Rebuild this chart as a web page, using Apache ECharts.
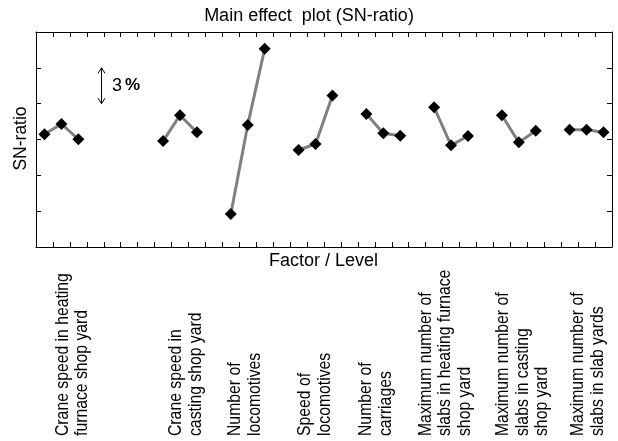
<!DOCTYPE html>
<html><head><meta charset="utf-8">
<script src="https://cdn.jsdelivr.net/npm/echarts@6/dist/echarts.min.js"></script>
<style>html,body{margin:0;padding:0;background:#fff}#c{width:618px;height:441px}</style>
</head><body><div id="c"></div>
<script>
// ---- data ----
const titleText = 'Main effect  plot (SN-ratio)';
const xAxisName = 'Factor / Level';
const yAxisName = 'SN-ratio';
const levelCategories = ['A1','A2','A3','s1','s2','s3','s4','B1','B2','B3','s5','C1','C2','C3','s6',
  'D1','D2','D3','s7','E1','E2','E3','s8','F1','F2','F3','s9','G1','G2','G3','s10','H1','H2','H3'];
const factorLabels = [
  'Crane speed in heating\nfurnace shop yard',
  'Crane speed in\ncasting shop yard',
  'Number of\nlocomotives',
  'Speed of\nlocomotives',
  'Number of\ncarriages',
  'Maximum number of\nslabs in heating furnace\nshop yard',
  'Maximum number of\nslabs in casting\nshop yard',
  'Maximum number of\nslabs in slab yards'
];
const factorLevels = [
  ['A1','A2','A3'], ['B1','B2','B3'], ['C1','C2','C3'], ['D1','D2','D3'],
  ['E1','E2','E3'], ['F1','F2','F3'], ['G1','G2','G3'], ['H1','H2','H3']
];
const factorValues = [
  [0.44, 1.30, 0.02],
  [-0.13, 2.03, 0.60],
  [-6.23, 1.22, 7.60],
  [-0.88, -0.38, 3.68],
  [2.14, 0.52, 0.32],
  [2.70, -0.49, 0.29],
  [2.03, -0.24, 0.74],
  [0.82, 0.82, 0.60]
];
const yMin = -9, yMax = 9, yInterval = 3;
const scaleBar = [6, 3]; // scale bar spans 3 % on the y axis
const scaleBarLabel = ['3', '%'];

// ---- chart ----
const FONT = '"Liberation Sans", Arial, Helvetica, sans-serif';
const chart = echarts.init(document.getElementById('c'), null, {renderer: 'canvas'});

function catAxis(pos) {
  return {
    type: 'category', data: levelCategories, position: pos, boundaryGap: true, gridIndex: 0,
    axisLine: {show: true, onZero: false, lineStyle: {color: '#000', width: 1}},
    axisTick: {show: true, inside: true, length: 5, interval: 0, lineStyle: {color: '#000', width: 1}},
    axisLabel: {show: false, interval: 0},
    splitLine: {show: false}
  };
}
function valAxis(pos) {
  return {
    type: 'value', min: yMin, max: yMax, interval: yInterval, position: pos, gridIndex: 0,
    axisLine: {show: true, onZero: false, lineStyle: {color: '#000', width: 1}},
    axisTick: {show: true, inside: true, length: 5, lineStyle: {color: '#000', width: 1}},
    axisLabel: {show: false},
    splitLine: {show: false}
  };
}

const labelX = [72.5, 186, 245, 315, 376, 445.5, 523, 588];

const option = {
  animation: false,
  backgroundColor: '#fff',
  title: {
    text: titleText, left: 'center', top: 7, padding: 0,
    textStyle: {fontFamily: FONT, fontSize: 18, fontWeight: 'normal', color: '#000', lineHeight: 18}
  },
  grid: {left: 36, top: 32, width: 576, height: 215, containLabel: false, outerBoundsMode: 'none'},
  xAxis: [catAxis('bottom'), catAxis('top')],
  yAxis: [valAxis('left'), valAxis('right')],
  series: factorLevels.map((lv, i) => ({
    type: 'line',
    xAxisIndex: 0, yAxisIndex: 0,
    data: lv.map((c, j) => [c, factorValues[i][j]]),
    symbol: 'diamond', symbolSize: 12, showAllSymbol: true,
    itemStyle: {color: '#000'},
    lineStyle: {color: '#808080', width: 3},
    emphasis: {disabled: true}
  }))
};
chart.setOption(option);

// annotations / labels
const yTop = chart.convertToPixel({yAxisIndex: 0}, scaleBar[0]);
const yBot = chart.convertToPixel({yAxisIndex: 0}, scaleBar[1]);
const ax = 101.5;
const graphics = [];
factorLabels.forEach((t, i) => {
  graphics.push({
    type: 'text', x: labelX[i], y: 436, rotation: Math.PI / 2, scaleX: 0.9,
    style: {text: t, fontFamily: FONT, fontSize: 17.5, fill: '#000',
      align: 'left', verticalAlign: 'middle', textAlign: 'left', textVerticalAlign: 'middle', lineHeight: 19.5}
  });
});
graphics.push({
  type: 'text', x: 323.5, y: 261,
  style: {text: xAxisName, fontFamily: FONT, fontSize: 18, fill: '#000',
    align: 'center', verticalAlign: 'middle', textAlign: 'center', textVerticalAlign: 'middle'}
});
graphics.push({
  type: 'text', x: 21, y: 138.5, rotation: Math.PI / 2,
  style: {text: yAxisName, fontFamily: FONT, fontSize: 17.5, fill: '#000',
    align: 'center', verticalAlign: 'middle', textAlign: 'center', textVerticalAlign: 'middle'}
});
graphics.push({type: 'line', shape: {x1: ax, y1: yTop, x2: ax, y2: yBot}, style: {stroke: '#000', lineWidth: 1}});
graphics.push({type: 'polyline', shape: {points: [[ax - 3.5, yTop + 5.5], [ax, yTop], [ax + 3.5, yTop + 5.5]]}, style: {stroke: '#000', lineWidth: 1, fill: null}});
graphics.push({type: 'polyline', shape: {points: [[ax - 3.5, yBot - 5.5], [ax, yBot], [ax + 3.5, yBot - 5.5]]}, style: {stroke: '#000', lineWidth: 1, fill: null}});
graphics.push({
  type: 'text', x: 112, y: (yTop + yBot) / 2,
  style: {
    text: '{a|' + scaleBarLabel[0] + '}{b|' + scaleBarLabel[1] + '}',
    verticalAlign: 'middle', textVerticalAlign: 'middle', align: 'left', textAlign: 'left',
    rich: {
      a: {fontFamily: FONT, fontSize: 18, fill: '#000', color: '#000'},
      b: {fontFamily: FONT, fontSize: 17, fontWeight: 'bold', fill: '#000', color: '#000', padding: [0, 0, 0, 3]}
    }
  }
});
chart.setOption({graphic: graphics});
</script>
</body></html>
